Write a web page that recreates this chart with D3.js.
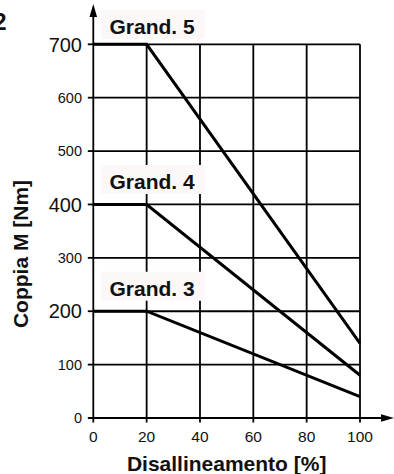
<!DOCTYPE html>
<html>
<head>
<meta charset="utf-8">
<script src="https://cdn.jsdelivr.net/npm/d3@7"></script>
<style>
  html, body { margin: 0; padding: 0; background: #fff; }
  svg { display: block; font-family: "Liberation Sans", Arial, Helvetica, sans-serif; }
</style>
</head>
<body>
<svg id="chart" width="394" height="474"></svg>
<script>
// ---- data ----
const xTicks = [0, 20, 40, 60, 80, 100];
const yTicks = [0, 100, 200, 300, 400, 500, 600, 700];
const yMajorTicks = [200, 400, 700];
const seriesNames = ["Grand. 5", "Grand. 4", "Grand. 3"];
const seriesX = [0, 20, 100];
const grand5 = [700, 700, 140];
const grand4 = [400, 400, 80];
const grand3 = [200, 200, 40];
const xTitle = "Disallineamento [%]";
const yTitle = "Coppia M [Nm]";
const figNumber = "2";

const seriesValues = [grand5, grand4, grand3];

const svg = d3.select("#chart");
const x = d3.scaleLinear().domain([0, 100]).range([93.3, 360]);
const y = d3.scaleLinear().domain([0, 700]).range([418, 44.3]);

// grid: horizontal lines
svg.append("g").selectAll("line").data(yTicks).join("line")
  .attr("x1", x(0)).attr("x2", x(100))
  .attr("y1", d => y(d)).attr("y2", d => y(d))
  .attr("stroke", "#000").attr("stroke-width", 1.8);
// grid: vertical lines (extend below axis as ticks)
svg.append("g").selectAll("line").data(xTicks.filter(d => d > 0)).join("line")
  .attr("x1", d => x(d)).attr("x2", d => x(d))
  .attr("y1", y(700)).attr("y2", y(0) + 4.5)
  .attr("stroke", "#000").attr("stroke-width", 1.8);

// axes with arrows
svg.append("line").attr("x1", x(0)).attr("x2", x(0)).attr("y1", y(0) + 4.5).attr("y2", 14)
  .attr("stroke", "#000").attr("stroke-width", 1.8);
svg.append("path").attr("d", `M${x(0)},4 L${x(0) - 3.8},17 L${x(0) + 3.8},17 Z`).attr("fill", "#000");
svg.append("line").attr("x1", x(0) - 5).attr("x2", 386).attr("y1", y(0)).attr("y2", y(0))
  .attr("stroke", "#000").attr("stroke-width", 1.8);
svg.append("path").attr("d", `M394,${y(0)} L381,${y(0) - 3.8} L381,${y(0) + 3.8} Z`).attr("fill", "#000");

// y ticks
svg.append("g").selectAll("line").data(yTicks).join("line")
  .attr("x1", x(0) - 5.5).attr("x2", x(0))
  .attr("y1", d => y(d)).attr("y2", d => y(d))
  .attr("stroke", "#000").attr("stroke-width", 1.8);

// y tick labels
svg.append("g").selectAll("text").data(yTicks).join("text")
  .attr("x", 82).attr("y", d => y(d))
  .attr("dy", "0.36em")
  .attr("text-anchor", "end")
  .attr("font-size", d => yMajorTicks.includes(d) ? 20 : 14.5)
  .attr("fill", "#111")
  .text(d => d);

// x tick labels
svg.append("g").selectAll("text").data(xTicks).join("text")
  .attr("x", d => x(d)).attr("y", 442)
  .attr("text-anchor", "middle")
  .attr("font-size", 15.5)
  .attr("fill", "#111")
  .text(d => d);

// series lines
const line = d3.line().x((d, i) => x(seriesX[i])).y(d => y(d));
svg.append("g").selectAll("path").data(seriesValues).join("path")
  .attr("d", d => line(d))
  .attr("fill", "none").attr("stroke", "#000").attr("stroke-width", 3)
  .attr("stroke-linejoin", "miter");

// series labels with light background boxes
seriesNames.forEach((name, i) => {
  const yl = y(seriesValues[i][0]);
  const base = Math.max(yl - 15.5, 34);
  const g = svg.append("g");
  g.append("rect")
    .attr("x", 101).attr("y", base - 24).attr("width", 104).attr("height", 29)
    .attr("fill", "#fcf8f8");
  g.append("text")
    .attr("x", 109.5).attr("y", base)
    .attr("font-size", 21).attr("font-weight", "bold").attr("fill", "#111")
    .text(name);
});

// axis titles
svg.append("text")
  .attr("x", (x(0) + x(100)) / 2).attr("y", 471)
  .attr("text-anchor", "middle")
  .attr("font-size", 21).attr("font-weight", "bold").attr("fill", "#111")
  .text(xTitle);
svg.append("text")
  .attr("transform", `translate(28,254) rotate(-90)`)
  .attr("text-anchor", "middle")
  .attr("font-size", 21).attr("font-weight", "bold").attr("fill", "#111")
  .text(yTitle);

// figure number (partly cut off at the left edge, as in the reference)
svg.append("text")
  .attr("x", 6.5).attr("y", 30)
  .attr("text-anchor", "end")
  .attr("font-size", 24).attr("font-weight", "bold").attr("fill", "#111")
  .text(figNumber);
</script>
</body>
</html>
